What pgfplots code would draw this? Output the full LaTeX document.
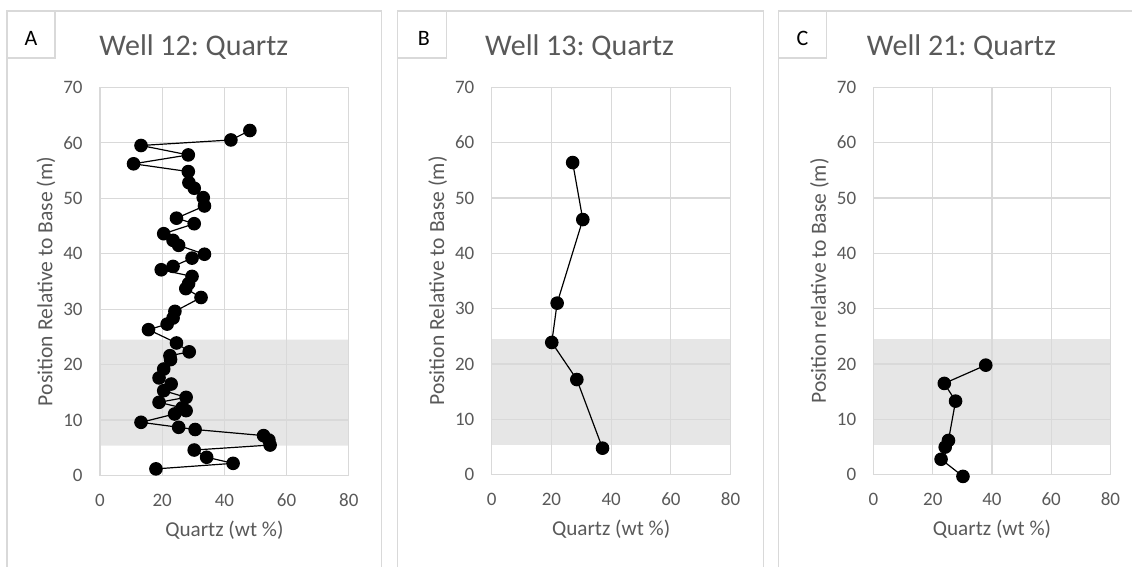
\documentclass[border=0pt]{standalone}
\usepackage{pgfplots}
\pgfplotsset{compat=1.18}
\usepackage{fontspec}
\setmainfont{Carlito}
\frenchspacing
\definecolor{txt}{HTML}{595959}
\definecolor{grd}{HTML}{D9D9D9}
\definecolor{band}{HTML}{E6E6E6}
\definecolor{frm}{HTML}{D9D9D9}
\pgfplotsset{
  every axis title shift=0pt,
  well/.style={
    set layers,
    scale only axis,
    xmin=0, xmax=80, ymin=0, ymax=70,
    xtick={0,20,40,60,80}, ytick={0,10,...,70},
    grid=major,
    major grid style={grd, line width=0.6pt},
    axis line style={grd, line width=0.7pt},
    axis lines*=left,
    major tick length=0pt,
    clip=false,
    /pgf/number format/assume math mode=true,
    tick label style={font=\fontsize{9.5}{11}\selectfont, text=txt},
    xticklabel style={anchor=base, yshift=-15.5pt},
    yticklabel style={anchor=east, inner sep=0pt, xshift=-8.5pt},
    xlabel={Quartz (wt \%)},
    xlabel style={font=\fontsize{10.6}{13}\selectfont, text=txt, at={(rel axis cs:0.5,0)}, anchor=base, yshift=-30.5pt},
    ylabel style={font=\fontsize{10.8}{13}\selectfont, text=txt, at={(rel axis cs:0,0.5)}, anchor=center, yshift=27pt},
  },
  pts/.style={black, line width=0.6pt, mark=*, mark size=3.1pt, mark options={fill=black, draw=black}},
  bandplot/.style={on layer=axis background, fill=band, draw=none, forget plot},
  ttl/.style={title style={at={(rel axis cs:#1,1)}, anchor=base, yshift=16pt, font=\fontsize{15}{18}\selectfont, text=txt}},
}
\begin{document}
\begin{tikzpicture}
\path (0,0) rectangle (566.5pt,283.5pt);
% frames (bottom edges lie below the picture)
\draw[frm, line width=0.6pt] (3.5pt,0pt) -- (3.5pt,278pt) -- (191pt,278pt) -- (191pt,0pt);
\draw[frm, line width=0.6pt] (199pt,0pt) -- (199pt,278pt) -- (382pt,278pt) -- (382pt,0pt);
\draw[frm, line width=0.6pt] (389.5pt,0pt) -- (389.5pt,278pt) -- (566.5pt,278pt);
\draw[frm, line width=0.6pt] (3.5pt,254.5pt) rectangle (27.5pt,278pt);
\draw[frm, line width=0.6pt] (199pt,254.5pt) rectangle (223.5pt,278pt);
\draw[frm, line width=0.6pt] (389.5pt,254.5pt) rectangle (413.5pt,278pt);
\node[font=\fontsize{11}{13}\selectfont] at (15.5pt,264.5pt) {A};
\node[font=\fontsize{11}{13}\selectfont] at (212pt,264.5pt) {B};
\node[font=\fontsize{11}{13}\selectfont] at (401.5pt,264.5pt) {C};

% Panel A
\begin{axis}[well, at={(50pt,45.6pt)}, anchor=south west, width=124.5pt, height=194.25pt,
  title={Well 12: Quartz}, ttl=0.3775,
  ylabel={Position Relative to Base (m)}]
\addplot[bandplot] coordinates {(0,5.4) (80,5.4) (80,24.5) (0,24.5) (0,5.4)};
\addplot[pts] table {
x y
48.2 62.2
42.1 60.5
13.2 59.5
28.4 57.8
10.8 56.2
28.4 54.8
28.6 52.8
30.3 51.8
33.2 50.1
33.6 48.6
24.6 46.4
30.3 45.4
20.5 43.6
23.5 42.4
25.3 41.5
33.6 39.9
29.6 39.2
23.5 37.7
19.7 37.1
29.6 35.9
28.5 34.6
27.6 33.7
32.5 32.1
24.1 29.6
23.5 28.4
21.6 27.3
15.6 26.3
24.6 23.9
28.7 22.3
22.5 21.6
22.7 20.9
20.5 19.2
19.0 17.6
22.9 16.5
20.5 15.3
27.7 14.1
19.0 13.2
26.4 12.2
27.7 11.7
24.0 11.1
13.2 9.6
25.3 8.7
30.6 8.3
52.6 7.2
54.3 6.4
54.7 5.5
30.3 4.6
34.3 3.3
42.8 2.2
18.0 1.2
};
\end{axis}

% Panel B
\begin{axis}[well, at={(246pt,46pt)}, anchor=south west, width=119.5pt, height=193.85pt,
  title={Well 13: Quartz}, ttl=0.368,
  ylabel={Position Relative to Base (m)}]
\addplot[bandplot] coordinates {(0,5.4) (80,5.4) (80,24.5) (0,24.5) (0,5.4)};
\addplot[pts] table {
x y
27.1 56.4
30.5 46.1
21.9 31.0
20.1 23.9
28.5 17.2
37.1 4.8
};
\end{axis}

% Panel C
\begin{axis}[well, at={(437pt,46pt)}, anchor=south west, width=118.5pt, height=193.85pt,
  title={Well 21: Quartz}, ttl=0.371,
  ylabel={Position relative to Base (m)}]
\addplot[bandplot] coordinates {(0,5.4) (80,5.4) (80,24.5) (0,24.5) (0,5.4)};
\addplot[pts] table {
x y
37.9 19.8
23.9 16.5
27.7 13.3
25.3 6.2
24.2 5.0
22.8 2.8
30.2 -0.3
};
\end{axis}
\end{tikzpicture}
\end{document}
